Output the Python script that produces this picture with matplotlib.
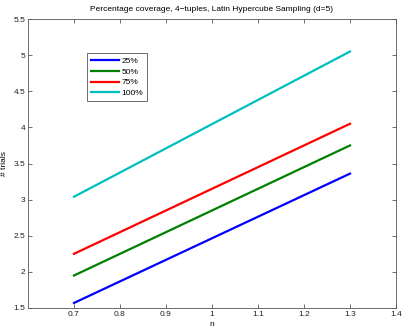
import matplotlib
matplotlib.use("Agg")
import matplotlib.pyplot as plt
from matplotlib.ticker import FuncFormatter

plt.rcParams['font.family'] = ['Liberation Sans', 'DejaVu Sans']

n = [0.7, 1.3]
trials_25 = [1.57, 3.36]
trials_50 = [1.95, 3.75]
trials_75 = [2.25, 4.05]
trials_100 = [3.04, 5.05]
labels = ["25%", "50%", "75%", "100%"]
colors = ["#0000ff", "#008000", "#ff0000", "#00bfbf"]

fig = plt.figure(figsize=(4.05, 3.31), dpi=100)
ax = fig.add_axes([28 / 405, 23 / 331, 368 / 405, 289 / 331])

for ys, lab, c in zip([trials_25, trials_50, trials_75, trials_100], labels, colors):
    ax.plot(n, ys, color=c, lw=1.6, label=lab)

ax.set_xlim(0.6, 1.4)
ax.set_ylim(1.5, 5.5)
ax.set_xticks([0.7, 0.8, 0.9, 1.0, 1.1, 1.2, 1.3, 1.4])
ax.set_yticks([1.5, 2, 2.5, 3, 3.5, 4, 4.5, 5, 5.5])
ax.xaxis.set_major_formatter(FuncFormatter(lambda v, p: f"{v:g}"))
ax.yaxis.set_major_formatter(FuncFormatter(lambda v, p: f"{v:g}"))
ax.tick_params(direction="in", top=True, right=True, labelsize=6, length=3,
               width=0.6, color="#555555", labelcolor="#222222", pad=2)
for s in ax.spines.values():
    s.set_color("#555555")
    s.set_linewidth(0.6)

ax.set_xlabel("n", fontsize=6, labelpad=2)
ax.set_ylabel("# trials", fontsize=6)
ax.yaxis.set_label_coords(-0.055, 0.5)
ax.set_title("Percentage coverage, 4\u2212tuples, Latin Hypercube Sampling (d=5)",
             fontsize=6, pad=6)

leg = ax.legend(loc="upper left", bbox_to_anchor=(87 / 405, 1 - 53 / 331),
                bbox_transform=fig.transFigure, borderaxespad=0, fontsize=6,
                fancybox=False, framealpha=1, handlelength=3.3, handletextpad=0.3,
                labelspacing=0.35, borderpad=0.5)
leg.get_frame().set_edgecolor("#555555")
leg.get_frame().set_linewidth(0.6)

fig.savefig("out.png", dpi=100)
